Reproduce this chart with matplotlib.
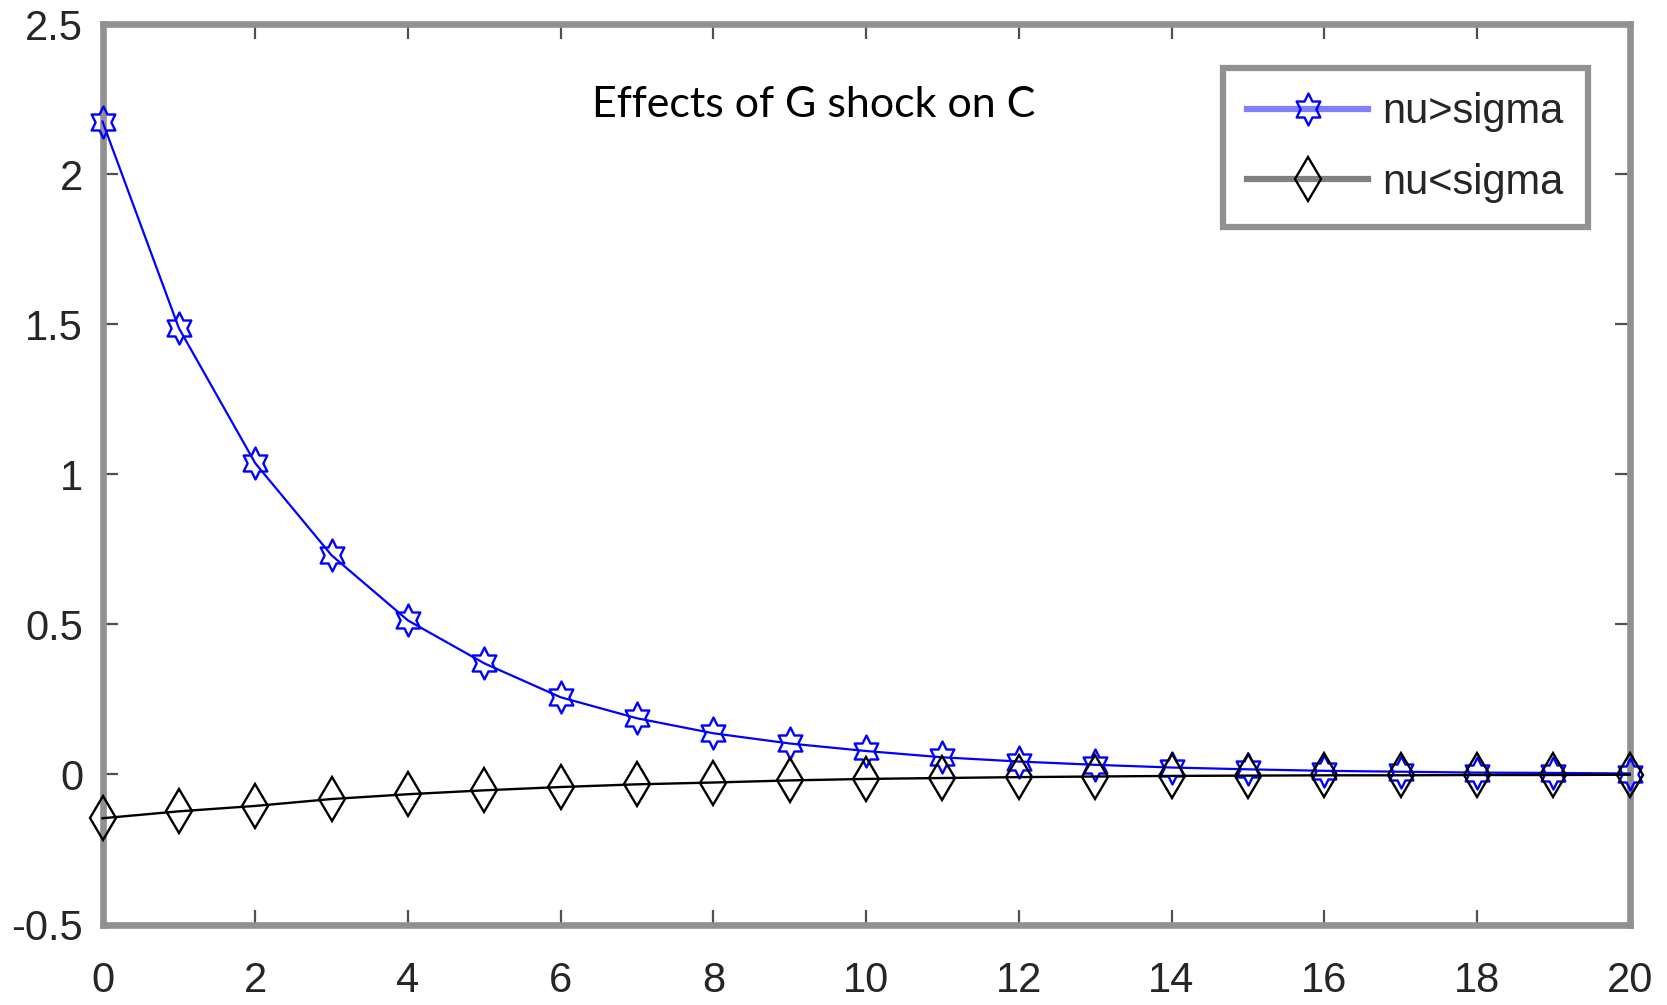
import numpy as np
import matplotlib
matplotlib.use("Agg")
import matplotlib.pyplot as plt
from matplotlib import font_manager as fm
from matplotlib.path import Path
from matplotlib.lines import Line2D

# ---- data ----
periods = list(range(0, 21))
nu_gt_sigma = [2.175, 1.487, 1.037, 0.73, 0.513, 0.37, 0.257, 0.187, 0.137, 0.103,
               0.078, 0.057, 0.043, 0.032, 0.023, 0.017, 0.012, 0.009, 0.006, 0.005, 0.003]
nu_lt_sigma = [-0.146, -0.123, -0.105, -0.082, -0.066, -0.053, -0.042, -0.033, -0.027, -0.02,
               -0.015, -0.012, -0.009, -0.007, -0.005, -0.004, -0.003, -0.003, -0.002, -0.002, -0.001]
series_labels = ["nu>sigma", "nu<sigma"]
title_text = "Effects of G shock on C"
xtick_vals = list(range(0, 21, 2))
xtick_labels = [str(v) for v in xtick_vals]
ytick_vals = [-0.5, 0, 0.5, 1, 1.5, 2, 2.5]
ytick_labels = ["-0.5", "0", "0.5", "1", "1.5", "2", "2.5"]

# ---- fonts ----
names = {f.name for f in fm.fontManager.ttflist}
if "Liberation Sans Narrow" in names:
    tick_font, tick_fs = "Liberation Sans Narrow", 34
else:
    tick_font, tick_fs = "Liberation Sans", 30
title_font = "Lato" if "Lato" in names else "DejaVu Sans"

# hexagram marker (slightly tall)
ang = np.deg2rad(90 + 30 * np.arange(12))
rad = np.where(np.arange(12) % 2 == 0, 1.0, 1 / np.sqrt(3))
verts = np.column_stack([rad * np.cos(ang), 1.17 * rad * np.sin(ang)])
verts = np.vstack([verts, verts[:1]])
codes = [Path.MOVETO] + [Path.LINETO] * 11 + [Path.CLOSEPOLY]
hexagram = Path(verts, codes)

W, H = 1667, 1005
fig = plt.figure(figsize=(W / 100, H / 100), dpi=100)
ax = fig.add_axes([102.5 / W, 1 - 924.5 / H, (1629.7 - 102.5) / W, (924.5 - 24) / H])

ax.plot(periods, nu_gt_sigma, color="#0000ff", lw=1.6, marker=hexagram, ms=23,
        mfc="none", mec="#0000ff", mew=1.7, zorder=3, clip_on=False)
ax.plot(periods, nu_lt_sigma, color="black", lw=1.7, marker="d", ms=22,
        mfc="none", mec="black", mew=1.7, zorder=4, clip_on=False)

ax.set_xlim(0, 20)
ax.set_ylim(-0.5, 2.5)
ax.set_xticks(xtick_vals)
ax.set_xticklabels(xtick_labels)
ax.set_yticks(ytick_vals)
ax.set_yticklabels(ytick_labels)

for s in ax.spines.values():
    s.set_color("#919191")
    s.set_linewidth(4.8)
    s.set_zorder(2)
ax.tick_params(which="both", direction="in", top=True, right=True,
               length=11, width=1.6, color="#505050")
ax.tick_params(axis="x", pad=26)
ax.tick_params(axis="y", pad=14)
for lab in ax.get_xticklabels() + ax.get_yticklabels():
    lab.set_fontfamily(tick_font)
    lab.set_fontsize(tick_fs)
    lab.set_color("#262626")

fig.text(814 / W, 1 - 117 / H, title_text, fontfamily=title_font, fontsize=31,
         ha="center", va="baseline", color="black")

handles = [
    Line2D([], [], color="#8080ff", lw=4.5, marker=hexagram, ms=23, mfc="none",
           mec="#0000ff", mew=1.7),
    Line2D([], [], color="#808080", lw=4.5, marker="d", ms=22, mfc="none",
           mec="black", mew=1.7),
]
leg = ax.legend(handles, series_labels, loc="upper right",
                bbox_to_anchor=(1588 / W, 1 - 68 / H), bbox_transform=fig.transFigure,
                borderaxespad=0, fancybox=False, framealpha=1, edgecolor="#919191",
                prop={"family": tick_font, "size": tick_fs},
                handlelength=2.9, handletextpad=0.35, borderpad=0.58, labelspacing=0.74)
leg.get_frame().set_linewidth(4.5)
leg.set_zorder(5)
for t in leg.get_texts():
    t.set_color("#262626")

fig.savefig("out.png", dpi=100)
